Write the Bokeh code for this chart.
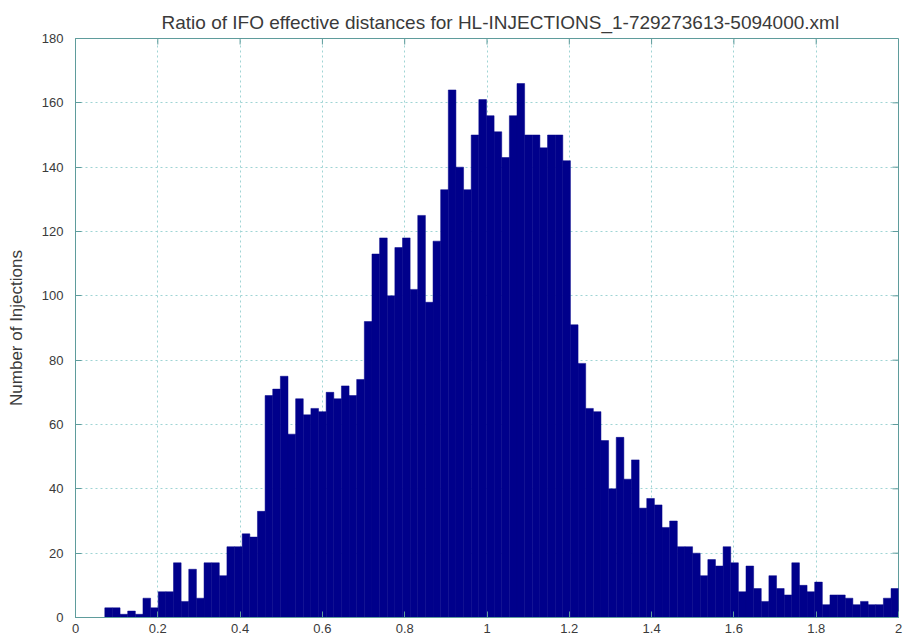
import numpy as np
from bokeh.plotting import figure
from bokeh.models import Range1d, FixedTicker, ColumnDataSource
from bokeh.embed import file_html
from bokeh.resources import INLINE

title_text = "Ratio of IFO effective distances for HL-INJECTIONS_1-729273613-5094000.xml"
y_label = "Number of Injections"

x_ticks = [0, 0.2, 0.4, 0.6, 0.8, 1.0, 1.2, 1.4, 1.6, 1.8, 2.0]
x_tick_labels = ["0", "0.2", "0.4", "0.6", "0.8", "1", "1.2", "1.4", "1.6", "1.8", "2"]
y_ticks = [0, 20, 40, 60, 80, 100, 120, 140, 160, 180]

bin_start = 0.0712
bin_width = 0.01855
counts = [
    3, 3, 1, 2, 1, 6, 3, 8, 8, 17, 5, 15, 6, 17, 17, 13, 22, 22, 26, 25, 33,
    69, 71, 75, 57, 68, 63, 65, 64, 70, 68, 72, 69, 74, 92, 113, 118, 100, 115, 118, 102,
    125, 98, 117, 133, 164, 140, 133, 150, 161, 156, 151, 143, 156, 166, 150, 150, 146, 150, 150, 142, 91,
    79, 65, 64, 55, 40, 56, 43, 49, 34, 37, 35, 28, 30, 22, 22, 20, 13, 18, 16, 22, 17,
    8, 16, 9, 5, 13, 9, 7, 17, 10, 8, 11, 4, 7, 7, 6, 4, 5, 4, 4, 6, 9,
]

X_MIN, X_MAX = 0, 2
Y_MIN, Y_MAX = 0, 180

left = [bin_start + i * bin_width for i in range(len(counts))]
right = [l + bin_width for l in left]
src = ColumnDataSource(dict(left=left, right=right, top=counts, bottom=[0] * len(counts)))

FONT = "Liberation Sans"
AXIS_COLOR = "#5f9c9c"
TEXT_COLOR = "#3a3a3a"
BAR_COLOR = "#00008b"
GRID_COLOR = "#9fd4d4"

W, H = 907, 642
BL, BR, BT, BB = 75, 9, 38, 25
TICK = 6  # px

p = figure(width=W, height=H, output_backend="svg", toolbar_location=None,
           x_range=Range1d(X_MIN, X_MAX), y_range=Range1d(Y_MIN, Y_MAX),
           min_border_left=BL, min_border_right=BR, min_border_top=BT, min_border_bottom=BB)
p.background_fill_color = "white"
p.border_fill_color = "white"
p.outline_line_color = AXIS_COLOR
p.outline_line_width = 1

p.title.text = title_text
p.title.align = "left"
p.title.offset = 86
p.title.standoff = 12
p.title.text_font = FONT
p.title.text_font_size = "19px"
p.title.text_font_style = "normal"
p.title.text_color = TEXT_COLOR

p.quad(left="left", right="right", top="top", bottom="bottom", source=src,
       fill_color=BAR_COLOR, line_color=BAR_COLOR, line_width=0.5)

for ax in (p.xaxis[0], p.yaxis[0]):
    ax.axis_line_color = AXIS_COLOR
    ax.major_tick_line_color = AXIS_COLOR
    ax.major_tick_in = TICK
    ax.major_tick_out = 0
    ax.minor_tick_line_color = None
    ax.major_label_text_font = FONT
    ax.major_label_text_font_size = "13px"
    ax.major_label_text_color = TEXT_COLOR

p.xaxis[0].ticker = FixedTicker(ticks=x_ticks)
p.xaxis[0].major_label_overrides = {t: s for t, s in zip(x_ticks, x_tick_labels)}
p.xaxis[0].major_label_standoff = 6
p.yaxis[0].ticker = FixedTicker(ticks=y_ticks)
p.yaxis[0].major_label_standoff = 12
p.yaxis[0].axis_label = y_label
p.yaxis[0].axis_label_text_font = FONT
p.yaxis[0].axis_label_text_font_size = "17px"
p.yaxis[0].axis_label_text_font_style = "normal"
p.yaxis[0].axis_label_text_color = TEXT_COLOR
p.yaxis[0].axis_label_standoff = 13

# mirrored inward ticks on the right and top edges of the box
frame_w = W - BL - BR
frame_h = H - BT - BB
dx = TICK * (X_MAX - X_MIN) / frame_w
dy = TICK * (Y_MAX - Y_MIN) / frame_h
p.segment(x0=[X_MAX] * len(y_ticks), x1=[X_MAX - dx] * len(y_ticks), y0=y_ticks, y1=y_ticks,
          line_color=AXIS_COLOR, line_width=1)
p.segment(x0=x_ticks, x1=x_ticks, y0=[Y_MAX] * len(x_ticks), y1=[Y_MAX - dy] * len(x_ticks),
          line_color=AXIS_COLOR, line_width=1)

p.xgrid.ticker = FixedTicker(ticks=x_ticks)
p.ygrid.ticker = FixedTicker(ticks=y_ticks)
for g in (p.xgrid[0], p.ygrid[0]):
    g.grid_line_color = GRID_COLOR
    g.grid_line_dash = "2 3"
    g.grid_line_width = 1

open("out.html", "w").write(file_html(p, INLINE))
